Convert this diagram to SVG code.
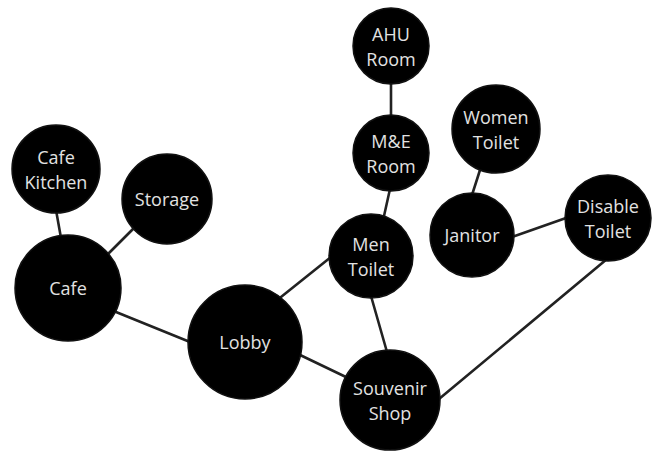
<svg xmlns="http://www.w3.org/2000/svg" width="653" height="454" viewBox="0 0 653 454">
<style>
.n{fill:#000;stroke:#111;stroke-width:1.5}
.t{font-family:"Open Sans","DejaVu Sans",sans-serif;font-size:18px;fill:#e2e2e2;text-anchor:middle;dominant-baseline:central}
.e{stroke:#222;stroke-width:2.6;fill:none;stroke-linecap:round}
</style>
<rect width="653" height="454" fill="#fff"/>
<g id="edges">
<line class="e" x1="56" y1="210" x2="61" y2="238"/>
<line class="e" x1="134" y1="228" x2="108" y2="254"/>
<line class="e" x1="116" y1="312" x2="190" y2="342"/>
<line class="e" x1="281" y1="297" x2="331" y2="257"/>
<line class="e" x1="298" y1="354" x2="348" y2="378"/>
<line class="e" x1="371" y1="296" x2="387" y2="352"/>
<line class="e" x1="384" y1="216" x2="390" y2="189"/>
<line class="e" x1="391" y1="82" x2="391" y2="117"/>
<line class="e" x1="480" y1="170" x2="472" y2="195"/>
<line class="e" x1="512" y1="237" x2="566" y2="218"/>
<line class="e" x1="607" y1="259" x2="439" y2="399"/>
</g>
<g id="ahu"><circle class="n" cx="391" cy="46" r="38"/><text class="t" x="391" y="34">AHU</text><text class="t" x="391" y="59">Room</text></g>
<g id="me"><circle class="n" cx="391" cy="153" r="38"/><text class="t" x="391" y="141">M&amp;E</text><text class="t" x="391" y="166">Room</text></g>
<g id="women"><circle class="n" cx="496" cy="129" r="44"/><text class="t" x="496" y="117">Women</text><text class="t" x="496" y="142">Toilet</text></g>
<g id="kitchen"><circle class="n" cx="56" cy="169" r="44"/><text class="t" x="56" y="157">Cafe</text><text class="t" x="56" y="182">Kitchen</text></g>
<g id="storage"><circle class="n" cx="167" cy="199" r="45"/><text class="t" x="167" y="199">Storage</text></g>
<g id="disable"><circle class="n" cx="608" cy="218" r="43"/><text class="t" x="608" y="206">Disable</text><text class="t" x="608" y="231">Toilet</text></g>
<g id="janitor"><circle class="n" cx="472" cy="235" r="42"/><text class="t" x="472" y="235">Janitor</text></g>
<g id="men"><circle class="n" cx="371" cy="256" r="42"/><text class="t" x="371" y="244">Men</text><text class="t" x="371" y="269">Toilet</text></g>
<g id="cafe"><circle class="n" cx="68" cy="288" r="53"/><text class="t" x="68" y="288">Cafe</text></g>
<g id="lobby"><circle class="n" cx="245" cy="342" r="57"/><text class="t" x="245" y="342">Lobby</text></g>
<g id="souvenir"><circle class="n" cx="390" cy="400" r="50"/><text class="t" x="390" y="388">Souvenir</text><text class="t" x="390" y="413">Shop</text></g>
</svg>
